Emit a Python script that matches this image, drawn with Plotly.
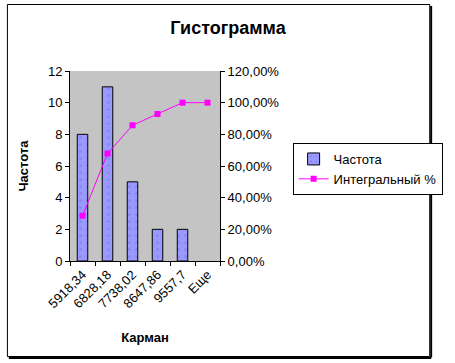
import plotly.graph_objects as go

categories = ["5918,34", "6828,18", "7738,02", "8647,86", "9557,7", "Еще"]
frequency = [8, 11, 5, 2, 2, 0]
cumulative = [0.2857, 0.6786, 0.8571, 0.9286, 1.0, 1.0]
y2_ticks = [0, 0.2, 0.4, 0.6, 0.8, 1.0, 1.2]
y2_labels = ["0,00%", "20,00%", "40,00%", "60,00%", "80,00%", "100,00%", "120,00%"]

FONT = "Arial, Liberation Sans, sans-serif"

fig = go.Figure()
fig.add_trace(go.Bar(
    x=categories, y=frequency, name="Частота", width=0.42,
    marker=dict(color="#9999ff",
                line=dict(color="black", width=[1 if v > 0 else 0 for v in frequency]),
                pattern=dict(shape=".", fgcolor="#7777dd", bgcolor="#9999ff", size=7, solidity=0.15)),
))
fig.add_trace(go.Scatter(
    x=categories, y=cumulative, name="Интегральный %", yaxis="y2",
    mode="lines+markers", line=dict(color="#ff00ff", width=1),
    marker=dict(symbol="square", size=6, color="#ff00ff"),
))

L, R, T, B = 70, 228, 71, 102
W, H = 455, 363
pw, ph = W - L - R, H - T - B

def px(x):
    return (x - L) / pw

def py(y):
    return (H - B - y) / ph

fig.update_layout(
    width=W, height=H,
    margin=dict(l=L, r=R, t=T, b=B),
    paper_bgcolor="white", plot_bgcolor="#c4c4c4",
    font=dict(family=FONT, size=13, color="black"),
    title=dict(text="<b>Гистограмма</b>", x=(228) / W, xanchor="center",
               y=1 - 28 / H, yanchor="middle", font=dict(size=18)),
    showlegend=True,
    legend=dict(x=px(303), y=py(143), xanchor="left", yanchor="top",
                bgcolor="white", bordercolor="black", borderwidth=1,
                font=dict(size=13), tracegroupgap=0, itemwidth=30),
    xaxis=dict(
        type="category", tickangle=-45, showline=True, linecolor="black", linewidth=1,
        ticks="outside", ticklen=4, tickcolor="black", tickson="boundaries",
        showgrid=False, tickfont=dict(size=13),
        title=dict(text="<b>Карман</b>", font=dict(size=13), standoff=22),
        range=[-0.5, 5.5],
    ),
    yaxis=dict(
        range=[0, 12], dtick=2, showline=True, linecolor="black", linewidth=1,
        ticks="outside", ticklen=4, tickcolor="black", showgrid=False,
        zeroline=False, tickfont=dict(size=13),
        title=dict(text="<b>Частота</b>", font=dict(size=13), standoff=16),
    ),
    yaxis2=dict(
        range=[0, 1.2], overlaying="y", side="right", tickvals=y2_ticks, ticktext=y2_labels,
        showline=True, linecolor="black", linewidth=1, ticks="outside", ticklen=4,
        tickcolor="black", showgrid=False, zeroline=False, tickfont=dict(size=13),
    ),
    shapes=[
        dict(type="rect", xref="paper", yref="paper", x0=px(4.5), x1=px(446.5),
             y0=py(356.5), y1=py(4.5), line=dict(color="black", width=1), layer="below"),
        dict(type="line", xref="paper", yref="paper", x0=px(448), x1=px(448),
             y0=py(357.5), y1=py(6), line=dict(color="black", width=2)),
        dict(type="line", xref="paper", yref="paper", x0=px(6), x1=px(448),
             y0=py(358), y1=py(358), line=dict(color="black", width=2)),
    ],
)

fig.write_html("out.html", config={"displayModeBar": False},
               post_script="document.body.style.margin='0';document.body.style.overflow='hidden';")
